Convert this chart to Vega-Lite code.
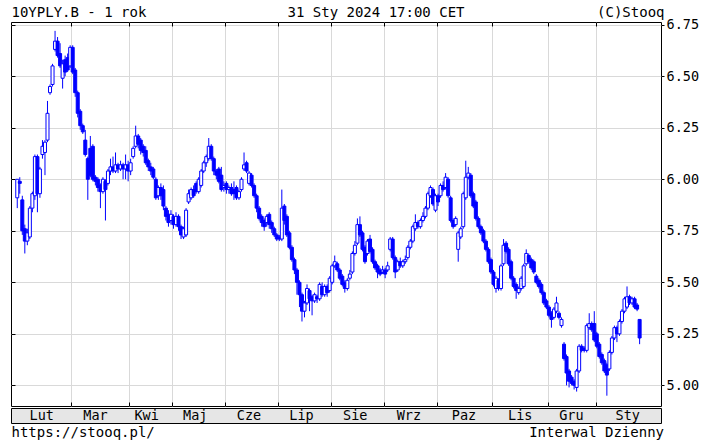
{
  "$schema": "https://vega.github.io/schema/vega-lite/v6.json",
  "padding": {"left": 10, "top": 4, "right": 4, "bottom": 2},
  "spacing": 0,
  "resolve": {"scale": {"x": "independent", "y": "independent"}},
  "config": {
    "font": "DejaVu Sans Mono",
    "axis": {"labelFont": "DejaVu Sans Mono", "titleFont": "DejaVu Sans Mono", "titleFontWeight": "normal", "labelFontSize": 13.5, "titleFontSize": 14, "labelColor": "#000000", "titleColor": "#000000", "gridColor": "#d9d9d9", "gridWidth": 1, "tickColor": "#000000"},
    "title": {"font": "DejaVu Sans Mono", "fontSize": 14, "fontWeight": "normal", "color": "#000000"},
    "text": {"font": "DejaVu Sans Mono"}
  },
  "datasets": {
    "months": [
      {"m": "Lut", "p": 11.5}, {"m": "Mar", "p": 32.5}, {"m": "Kwi", "p": 52.5}, {"m": "Maj", "p": 71.5},
      {"m": "Cze", "p": 92.5}, {"m": "Lip", "p": 113}, {"m": "Sie", "p": 134}, {"m": "Wrz", "p": 155},
      {"m": "Paz", "p": 176.5}, {"m": "Lis", "p": 198.5}, {"m": "Gru", "p": 218.5}, {"m": "Sty", "p": 240.5}
    ],
    "ohlc": [
      {"d":0,"o":5.91,"h":6.00,"l":5.86,"c":6.00},{"d":1,"o":5.99,"h":6.01,"l":5.93,"c":5.98},{"d":2,"o":5.90,"h":5.92,"l":5.73,"c":5.75},{"d":3,"o":5.76,"h":5.78,"l":5.64,"c":5.70},{"d":4,"o":5.70,"h":5.76,"l":5.68,"c":5.74},
      {"d":5,"o":5.72,"h":5.87,"l":5.71,"c":5.86},{"d":6,"o":5.86,"h":5.94,"l":5.84,"c":5.93},{"d":7,"o":5.92,"h":6.12,"l":5.90,"c":6.11},{"d":8,"o":6.11,"h":6.12,"l":5.84,"c":5.93},{"d":9,"o":5.93,"h":6.06,"l":5.91,"c":6.05},
      {"d":10,"o":6.12,"h":6.19,"l":6.10,"c":6.16},{"d":11,"o":6.13,"h":6.19,"l":6.02,"c":6.18},{"d":12,"o":6.19,"h":6.38,"l":6.18,"c":6.32},{"d":13,"o":6.42,"h":6.46,"l":6.41,"c":6.45},{"d":14,"o":6.46,"h":6.56,"l":6.45,"c":6.55},
      {"d":15,"o":6.63,"h":6.72,"l":6.62,"c":6.67},{"d":16,"o":6.67,"h":6.69,"l":6.59,"c":6.60},{"d":17,"o":6.61,"h":6.66,"l":6.54,"c":6.55},{"d":18,"o":6.49,"h":6.58,"l":6.44,"c":6.56},{"d":19,"o":6.58,"h":6.60,"l":6.50,"c":6.52},
      {"d":20,"o":6.59,"h":6.61,"l":6.52,"c":6.53},{"d":21,"o":6.55,"h":6.65,"l":6.54,"c":6.64},{"d":22,"o":6.64,"h":6.65,"l":6.51,"c":6.52},{"d":23,"o":6.53,"h":6.54,"l":6.40,"c":6.42},{"d":24,"o":6.42,"h":6.43,"l":6.30,"c":6.32},
      {"d":25,"o":6.33,"h":6.34,"l":6.24,"c":6.26},{"d":26,"o":6.26,"h":6.27,"l":6.22,"c":6.23},{"d":27,"o":6.19,"h":6.24,"l":6.11,"c":6.12},{"d":28,"o":6.10,"h":6.11,"l":5.90,"c":6.00},{"d":29,"o":6.15,"h":6.21,"l":6.01,"c":6.02},
      {"d":30,"o":6.16,"h":6.17,"l":5.99,"c":6.00},{"d":31,"o":6.01,"h":6.02,"l":5.97,"c":5.99},{"d":32,"o":6.00,"h":6.01,"l":5.94,"c":5.96},{"d":33,"o":5.97,"h":5.98,"l":5.86,"c":5.94},{"d":34,"o":5.94,"h":6.01,"l":5.93,"c":6.00},
      {"d":35,"o":5.99,"h":6.00,"l":5.80,"c":5.95},{"d":36,"o":5.98,"h":6.05,"l":5.97,"c":6.04},{"d":37,"o":6.04,"h":6.10,"l":6.02,"c":6.06},{"d":38,"o":6.06,"h":6.11,"l":6.03,"c":6.04},{"d":39,"o":6.04,"h":6.13,"l":6.03,"c":6.07},
      {"d":40,"o":6.07,"h":6.08,"l":6.03,"c":6.05},{"d":41,"o":6.05,"h":6.09,"l":6.04,"c":6.07},{"d":42,"o":6.07,"h":6.08,"l":6.00,"c":6.05},{"d":43,"o":6.05,"h":6.12,"l":6.00,"c":6.07},{"d":44,"o":6.07,"h":6.09,"l":5.99,"c":6.04},
      {"d":45,"o":6.04,"h":6.10,"l":6.02,"c":6.08},{"d":46,"o":6.11,"h":6.16,"l":6.10,"c":6.15},{"d":47,"o":6.16,"h":6.26,"l":6.15,"c":6.21},{"d":48,"o":6.21,"h":6.22,"l":6.15,"c":6.17},{"d":49,"o":6.19,"h":6.20,"l":6.12,"c":6.14},
      {"d":50,"o":6.16,"h":6.17,"l":6.11,"c":6.13},{"d":51,"o":6.14,"h":6.16,"l":6.07,"c":6.08},{"d":52,"o":6.09,"h":6.10,"l":6.04,"c":6.06},{"d":53,"o":6.06,"h":6.08,"l":6.02,"c":6.04},{"d":54,"o":6.05,"h":6.06,"l":6.00,"c":6.01},
      {"d":55,"o":6.00,"h":6.01,"l":5.90,"c":5.91},{"d":56,"o":5.92,"h":5.97,"l":5.90,"c":5.96},{"d":57,"o":5.96,"h":5.98,"l":5.90,"c":5.92},{"d":58,"o":5.95,"h":5.97,"l":5.85,"c":5.87},{"d":59,"o":5.86,"h":5.87,"l":5.80,"c":5.82},
      {"d":60,"o":5.83,"h":5.85,"l":5.77,"c":5.79},{"d":61,"o":5.80,"h":5.85,"l":5.78,"c":5.83},{"d":62,"o":5.82,"h":5.83,"l":5.76,"c":5.78},{"d":63,"o":5.78,"h":5.84,"l":5.77,"c":5.82},{"d":64,"o":5.82,"h":5.83,"l":5.75,"c":5.77},
      {"d":65,"o":5.77,"h":5.78,"l":5.71,"c":5.73},{"d":66,"o":5.72,"h":5.77,"l":5.71,"c":5.76},{"d":67,"o":5.73,"h":5.86,"l":5.72,"c":5.85},{"d":68,"o":5.89,"h":5.95,"l":5.88,"c":5.93},{"d":69,"o":5.91,"h":5.96,"l":5.90,"c":5.95},
      {"d":70,"o":5.95,"h":5.97,"l":5.91,"c":5.92},{"d":71,"o":5.98,"h":5.99,"l":5.93,"c":5.94},{"d":72,"o":5.94,"h":6.01,"l":5.93,"c":6.00},{"d":73,"o":5.97,"h":6.05,"l":5.96,"c":6.04},{"d":74,"o":6.04,"h":6.09,"l":6.03,"c":6.08},
      {"d":75,"o":6.08,"h":6.12,"l":6.06,"c":6.11},{"d":76,"o":6.10,"h":6.20,"l":6.09,"c":6.16},{"d":77,"o":6.16,"h":6.17,"l":6.09,"c":6.10},{"d":78,"o":6.10,"h":6.11,"l":6.02,"c":6.04},{"d":79,"o":6.04,"h":6.05,"l":6.00,"c":6.02},
      {"d":80,"o":6.05,"h":6.06,"l":5.98,"c":5.99},{"d":81,"o":6.02,"h":6.06,"l":5.94,"c":5.95},{"d":82,"o":5.96,"h":5.99,"l":5.94,"c":5.97},{"d":83,"o":5.98,"h":5.99,"l":5.93,"c":5.95},{"d":84,"o":5.95,"h":5.97,"l":5.93,"c":5.96},
      {"d":85,"o":5.96,"h":5.98,"l":5.92,"c":5.93},{"d":86,"o":5.95,"h":5.99,"l":5.90,"c":5.93},{"d":87,"o":5.96,"h":5.97,"l":5.90,"c":5.91},{"d":88,"o":5.91,"h":5.95,"l":5.90,"c":5.94},{"d":89,"o":5.95,"h":6.01,"l":5.94,"c":6.00},
      {"d":90,"o":6.05,"h":6.13,"l":6.04,"c":6.07},{"d":91,"o":6.08,"h":6.09,"l":6.03,"c":6.04},{"d":92,"o":5.98,"h":6.04,"l":5.97,"c":6.03},{"d":93,"o":6.02,"h":6.03,"l":5.96,"c":5.97},{"d":94,"o":5.97,"h":5.98,"l":5.91,"c":5.92},
      {"d":95,"o":5.92,"h":5.93,"l":5.84,"c":5.86},{"d":96,"o":5.86,"h":5.87,"l":5.80,"c":5.81},{"d":97,"o":5.82,"h":5.83,"l":5.77,"c":5.79},{"d":98,"o":5.80,"h":5.81,"l":5.75,"c":5.77},{"d":99,"o":5.79,"h":5.83,"l":5.77,"c":5.82},
      {"d":100,"o":5.83,"h":5.84,"l":5.76,"c":5.78},{"d":101,"o":5.79,"h":5.80,"l":5.74,"c":5.76},{"d":102,"o":5.76,"h":5.77,"l":5.72,"c":5.73},{"d":103,"o":5.73,"h":5.74,"l":5.70,"c":5.71},{"d":104,"o":5.72,"h":5.73,"l":5.70,"c":5.71},
      {"d":105,"o":5.71,"h":5.95,"l":5.70,"c":5.86},{"d":106,"o":5.87,"h":5.88,"l":5.78,"c":5.80},{"d":107,"o":5.82,"h":5.83,"l":5.72,"c":5.73},{"d":108,"o":5.74,"h":5.75,"l":5.66,"c":5.67},{"d":109,"o":5.67,"h":5.68,"l":5.60,"c":5.61},
      {"d":110,"o":5.61,"h":5.62,"l":5.54,"c":5.56},{"d":111,"o":5.56,"h":5.57,"l":5.44,"c":5.50},{"d":112,"o":5.50,"h":5.51,"l":5.38,"c":5.44},{"d":113,"o":5.44,"h":5.45,"l":5.31,"c":5.36},{"d":114,"o":5.36,"h":5.41,"l":5.33,"c":5.40},
      {"d":115,"o":5.40,"h":5.49,"l":5.39,"c":5.47},{"d":116,"o":5.46,"h":5.47,"l":5.36,"c":5.42},{"d":117,"o":5.43,"h":5.44,"l":5.34,"c":5.41},{"d":118,"o":5.41,"h":5.45,"l":5.40,"c":5.44},{"d":119,"o":5.43,"h":5.44,"l":5.40,"c":5.42},
      {"d":120,"o":5.42,"h":5.50,"l":5.41,"c":5.49},{"d":121,"o":5.48,"h":5.50,"l":5.43,"c":5.44},{"d":122,"o":5.44,"h":5.49,"l":5.43,"c":5.48},{"d":123,"o":5.48,"h":5.49,"l":5.43,"c":5.45},{"d":124,"o":5.46,"h":5.53,"l":5.45,"c":5.52},
      {"d":125,"o":5.50,"h":5.59,"l":5.49,"c":5.58},{"d":126,"o":5.58,"h":5.63,"l":5.57,"c":5.60},{"d":127,"o":5.59,"h":5.60,"l":5.55,"c":5.56},{"d":128,"o":5.56,"h":5.57,"l":5.51,"c":5.52},{"d":129,"o":5.53,"h":5.54,"l":5.48,"c":5.49},
      {"d":130,"o":5.50,"h":5.51,"l":5.45,"c":5.47},{"d":131,"o":5.47,"h":5.52,"l":5.46,"c":5.51},{"d":132,"o":5.52,"h":5.56,"l":5.51,"c":5.54},{"d":133,"o":5.55,"h":5.65,"l":5.54,"c":5.64},{"d":134,"o":5.64,"h":5.70,"l":5.63,"c":5.68},
      {"d":135,"o":5.69,"h":5.81,"l":5.68,"c":5.78},{"d":136,"o":5.78,"h":5.82,"l":5.72,"c":5.73},{"d":137,"o":5.74,"h":5.75,"l":5.65,"c":5.66},{"d":138,"o":5.67,"h":5.68,"l":5.59,"c":5.60},{"d":139,"o":5.64,"h":5.71,"l":5.63,"c":5.70},
      {"d":140,"o":5.71,"h":5.73,"l":5.64,"c":5.65},{"d":141,"o":5.66,"h":5.67,"l":5.59,"c":5.60},{"d":142,"o":5.60,"h":5.61,"l":5.56,"c":5.57},{"d":143,"o":5.58,"h":5.59,"l":5.52,"c":5.55},{"d":144,"o":5.56,"h":5.57,"l":5.53,"c":5.54},
      {"d":145,"o":5.55,"h":5.58,"l":5.54,"c":5.56},{"d":146,"o":5.56,"h":5.57,"l":5.52,"c":5.54},{"d":147,"o":5.56,"h":5.60,"l":5.55,"c":5.58},{"d":148,"o":5.66,"h":5.72,"l":5.65,"c":5.71},{"d":149,"o":5.71,"h":5.72,"l":5.61,"c":5.62},
      {"d":150,"o":5.62,"h":5.63,"l":5.52,"c":5.55},{"d":151,"o":5.56,"h":5.61,"l":5.55,"c":5.60},{"d":152,"o":5.60,"h":5.62,"l":5.57,"c":5.58},{"d":153,"o":5.58,"h":5.61,"l":5.57,"c":5.60},{"d":154,"o":5.60,"h":5.63,"l":5.59,"c":5.61},
      {"d":155,"o":5.62,"h":5.68,"l":5.61,"c":5.67},{"d":156,"o":5.67,"h":5.71,"l":5.66,"c":5.70},{"d":157,"o":5.70,"h":5.78,"l":5.69,"c":5.77},{"d":158,"o":5.76,"h":5.83,"l":5.75,"c":5.79},{"d":159,"o":5.79,"h":5.80,"l":5.76,"c":5.77},
      {"d":160,"o":5.77,"h":5.81,"l":5.76,"c":5.80},{"d":161,"o":5.80,"h":5.84,"l":5.79,"c":5.82},{"d":162,"o":5.82,"h":5.87,"l":5.81,"c":5.86},{"d":163,"o":5.86,"h":5.94,"l":5.85,"c":5.93},{"d":164,"o":5.92,"h":5.97,"l":5.91,"c":5.96},
      {"d":165,"o":5.95,"h":5.96,"l":5.87,"c":5.88},{"d":166,"o":5.85,"h":5.93,"l":5.84,"c":5.92},{"d":167,"o":5.92,"h":5.93,"l":5.87,"c":5.89},{"d":168,"o":5.92,"h":5.98,"l":5.91,"c":5.97},{"d":169,"o":5.97,"h":5.99,"l":5.94,"c":5.95},
      {"d":170,"o":5.96,"h":6.03,"l":5.95,"c":6.01},{"d":171,"o":6.00,"h":6.01,"l":5.91,"c":5.92},{"d":172,"o":5.91,"h":5.92,"l":5.79,"c":5.80},{"d":173,"o":5.80,"h":5.81,"l":5.76,"c":5.77},{"d":174,"o":5.78,"h":5.82,"l":5.77,"c":5.81},
      {"d":175,"o":5.66,"h":5.75,"l":5.60,"c":5.74},{"d":176,"o":5.72,"h":5.77,"l":5.71,"c":5.76},{"d":177,"o":5.77,"h":5.94,"l":5.76,"c":5.93},{"d":178,"o":5.91,"h":6.09,"l":5.90,"c":6.01},{"d":179,"o":6.01,"h":6.06,"l":6.00,"c":6.03},
      {"d":180,"o":6.02,"h":6.03,"l":5.91,"c":5.92},{"d":181,"o":5.93,"h":5.94,"l":5.86,"c":5.87},{"d":182,"o":5.89,"h":5.90,"l":5.80,"c":5.81},{"d":183,"o":5.81,"h":5.82,"l":5.76,"c":5.77},{"d":184,"o":5.77,"h":5.78,"l":5.73,"c":5.74},
      {"d":185,"o":5.75,"h":5.76,"l":5.69,"c":5.70},{"d":186,"o":5.70,"h":5.71,"l":5.65,"c":5.66},{"d":187,"o":5.66,"h":5.67,"l":5.59,"c":5.60},{"d":188,"o":5.61,"h":5.62,"l":5.54,"c":5.55},{"d":189,"o":5.55,"h":5.56,"l":5.48,"c":5.49},
      {"d":190,"o":5.47,"h":5.53,"l":5.45,"c":5.52},{"d":191,"o":5.51,"h":5.52,"l":5.46,"c":5.47},{"d":192,"o":5.47,"h":5.59,"l":5.46,"c":5.58},{"d":193,"o":5.59,"h":5.71,"l":5.58,"c":5.68},{"d":194,"o":5.69,"h":5.70,"l":5.64,"c":5.65},
      {"d":195,"o":5.66,"h":5.67,"l":5.58,"c":5.59},{"d":196,"o":5.60,"h":5.61,"l":5.51,"c":5.52},{"d":197,"o":5.52,"h":5.53,"l":5.47,"c":5.48},{"d":198,"o":5.49,"h":5.50,"l":5.42,"c":5.46},{"d":199,"o":5.45,"h":5.48,"l":5.44,"c":5.47},
      {"d":200,"o":5.47,"h":5.53,"l":5.46,"c":5.52},{"d":201,"o":5.48,"h":5.59,"l":5.47,"c":5.58},{"d":202,"o":5.59,"h":5.66,"l":5.58,"c":5.64},{"d":203,"o":5.63,"h":5.64,"l":5.59,"c":5.60},{"d":204,"o":5.61,"h":5.62,"l":5.56,"c":5.57},
      {"d":205,"o":5.60,"h":5.61,"l":5.54,"c":5.55},{"d":206,"o":5.53,"h":5.54,"l":5.49,"c":5.50},{"d":207,"o":5.51,"h":5.52,"l":5.47,"c":5.48},{"d":208,"o":5.49,"h":5.50,"l":5.44,"c":5.45},{"d":209,"o":5.45,"h":5.46,"l":5.39,"c":5.40},
      {"d":210,"o":5.41,"h":5.42,"l":5.37,"c":5.38},{"d":211,"o":5.38,"h":5.39,"l":5.33,"c":5.34},{"d":212,"o":5.35,"h":5.36,"l":5.28,"c":5.32},{"d":213,"o":5.33,"h":5.38,"l":5.32,"c":5.37},{"d":214,"o":5.36,"h":5.43,"l":5.35,"c":5.40},
      {"d":215,"o":5.35,"h":5.36,"l":5.32,"c":5.33},{"d":216,"o":5.29,"h":5.33,"l":5.28,"c":5.32},{"d":217,"o":5.20,"h":5.21,"l":5.12,"c":5.13},{"d":218,"o":5.14,"h":5.15,"l":5.00,"c":5.06},{"d":219,"o":5.07,"h":5.08,"l":4.99,"c":5.02},
      {"d":220,"o":5.04,"h":5.05,"l":5.00,"c":5.01},{"d":221,"o":5.02,"h":5.03,"l":4.98,"c":5.00},{"d":222,"o":4.99,"h":5.08,"l":4.97,"c":5.07},{"d":223,"o":5.07,"h":5.20,"l":5.06,"c":5.19},{"d":224,"o":5.19,"h":5.20,"l":5.16,"c":5.17},
      {"d":225,"o":5.18,"h":5.19,"l":5.16,"c":5.17},{"d":226,"o":5.17,"h":5.30,"l":5.16,"c":5.29},{"d":227,"o":5.28,"h":5.35,"l":5.27,"c":5.30},{"d":228,"o":5.30,"h":5.31,"l":5.26,"c":5.27},{"d":229,"o":5.30,"h":5.36,"l":5.21,"c":5.22},
      {"d":230,"o":5.25,"h":5.26,"l":5.18,"c":5.19},{"d":231,"o":5.20,"h":5.21,"l":5.13,"c":5.14},{"d":232,"o":5.15,"h":5.16,"l":5.10,"c":5.11},{"d":233,"o":5.12,"h":5.13,"l":5.06,"c":5.07},{"d":234,"o":5.10,"h":5.11,"l":4.95,"c":5.05},
      {"d":235,"o":5.08,"h":5.17,"l":5.07,"c":5.16},{"d":236,"o":5.16,"h":5.24,"l":5.15,"c":5.23},{"d":237,"o":5.23,"h":5.29,"l":5.22,"c":5.28},{"d":238,"o":5.28,"h":5.29,"l":5.21,"c":5.25},{"d":239,"o":5.25,"h":5.32,"l":5.24,"c":5.31},
      {"d":240,"o":5.31,"h":5.37,"l":5.30,"c":5.36},{"d":241,"o":5.36,"h":5.43,"l":5.35,"c":5.42},{"d":242,"o":5.38,"h":5.48,"l":5.37,"c":5.43},{"d":243,"o":5.43,"h":5.44,"l":5.39,"c":5.40},{"d":244,"o":5.40,"h":5.43,"l":5.39,"c":5.42},
      {"d":245,"o":5.42,"h":5.43,"l":5.37,"c":5.38},{"d":246,"o":5.39,"h":5.40,"l":5.36,"c":5.37},{"d":247,"o":5.32,"h":5.32,"l":5.20,"c":5.23}
    ]
  },
  "vconcat": [
    {
      "width": 650,
      "height": 384,
      "data": {"name": "ohlc"},
      "view": {"stroke": "#000000", "strokeWidth": 1},
      "layer": [
        {
          "mark": {"type": "rule", "color": "#0000ff", "strokeWidth": 1},
          "encoding": {
            "x": {"field": "d", "type": "quantitative", "scale": {"domain": [-0.5, 253.5], "nice": false, "zero": false},
                  "axis": {"orient": "bottom", "values": [21.5, 44.5, 61.5, 82.5, 103.5, 124.5, 145.5, 166.5, 188.5, 210.5, 229.5], "labels": false, "grid": false, "domain": false, "ticks": true, "tickSize": -4, "title": null}},
            "y": {"field": "l", "type": "quantitative", "scale": {"domain": [4.9, 6.763], "nice": false, "zero": false},
                  "axis": {"orient": "left", "values": [5, 5.25, 5.5, 5.75, 6, 6.25, 6.5, 6.75], "labels": false, "grid": false, "domain": false, "ticks": true, "tickSize": -4,
                           "title": "10YPLY.B - 1 rok", "titleAngle": 0, "titleX": 0, "titleY": -6, "titleAlign": "left", "titleBaseline": "alphabetic"}},
            "y2": {"field": "h"}
          }
        },
        {
          "mark": {"type": "bar", "width": 3, "stroke": "#0000ff", "strokeWidth": 1},
          "encoding": {
            "x": {"field": "d", "type": "quantitative",
                  "axis": {"orient": "top", "values": [21.5, 44.5, 61.5, 82.5, 103.5, 124.5, 145.5, 166.5, 188.5, 210.5, 229.5], "labels": false, "grid": true, "domain": false, "ticks": true, "tickSize": -4,
                           "title": "31 Sty 2024 17:00 CET", "titleX": 364.5, "titleY": -6, "titleAlign": "center", "titleBaseline": "alphabetic", "titleAngle": 0}},
            "y": {"field": "o", "type": "quantitative",
                  "axis": {"orient": "right", "values": [5, 5.25, 5.5, 5.75, 6, 6.25, 6.5, 6.75], "format": ".2f", "grid": true, "domain": false, "tickSize": 3, "labelPadding": 2,
                           "title": "(C)Stooq", "titleAngle": 0, "titleX": 3, "titleY": -6, "titleAlign": "right", "titleBaseline": "alphabetic"}},
            "y2": {"field": "c"},
            "fill": {"condition": {"test": "datum.c >= datum.o", "value": "#ffffff"}, "value": "#0000ff"}
          }
        }
      ]
    },
    {
      "width": 650,
      "height": 15,
      "data": {"name": "months"},
      "view": {"fill": "#e6e6e6", "stroke": "#000000", "strokeWidth": 1},
      "mark": {"type": "text", "fontSize": 13.5, "baseline": "middle", "color": "#000000"},
      "encoding": {
        "x": {"field": "p", "type": "quantitative", "scale": {"domain": [-0.5, 253.5], "nice": false, "zero": false},
              "axis": {"orient": "bottom", "labels": false, "ticks": false, "domain": false, "grid": false,
                       "title": "Interwal Dzienny", "titleX": 652.5, "titleY": 13, "titleAlign": "right", "titleBaseline": "alphabetic", "titleAngle": 0}},
        "y": {"datum": "band", "type": "nominal", "scale": {"type": "point"},
              "axis": {"orient": "left", "labels": false, "ticks": false, "domain": false, "grid": false,
                       "title": "https://stooq.pl/", "titleAngle": 0, "titleX": 0, "titleY": 28, "titleAlign": "left", "titleBaseline": "alphabetic"}},
        "text": {"field": "m"}
      }
    }
  ]
}
